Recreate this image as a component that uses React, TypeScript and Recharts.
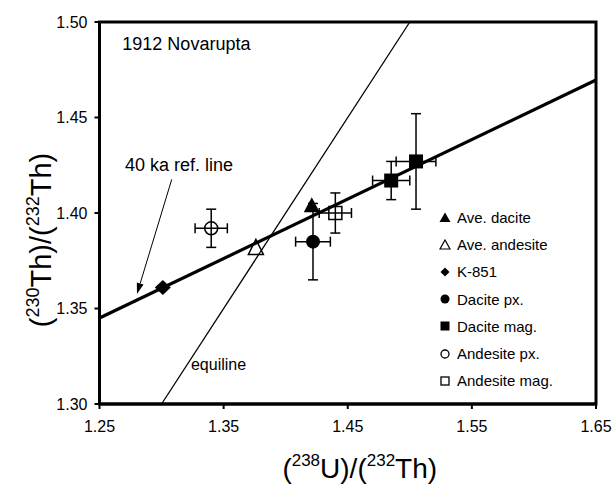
import React from 'react';
import {
  ScatterChart,
  Scatter,
  XAxis,
  YAxis,
  ErrorBar,
  ReferenceLine,
  ReferenceDot,
  ReferenceArea,
} from 'recharts';

const FONT = '"Liberation Sans", Arial, Helvetica, sans-serif';

// ---- axes ----
const xTicks = [1.25, 1.35, 1.45, 1.55, 1.65];
const yTicks = [1.3, 1.35, 1.4, 1.45, 1.5];

// ---- series (x = 238U/232Th, y = 230Th/232Th, ex/ey = error half-widths) ----
const aveDacite = [{ x: 1.421, y: 1.404 }];
const aveAndesite = [{ x: 1.376, y: 1.382 }];
const k851 = [{ x: 1.301, y: 1.361 }];
const dacitePx = [{ x: 1.422, y: 1.385, ex: 0.014, ey: 0.02 }];
const daciteMag = [
  { x: 1.485, y: 1.417, ex: 0.015, ey: 0.01 },
  { x: 1.505, y: 1.427, ex: 0.016, ey: 0.025 },
];
const andesitePx = [{ x: 1.34, y: 1.392, ex: 0.013, ey: 0.01 }];
const andesiteMag = [{ x: 1.44, y: 1.4, ex: 0.013, ey: 0.0105 }];

// ---- reference lines ----
const refLine40ka = [
  { x: 1.25, y: 1.345 },
  { x: 1.65, y: 1.4696 },
];
const equiline = [
  { x: 1.3, y: 1.3 },
  { x: 1.5, y: 1.5 },
];
const arrowSeg = [
  { x: 1.3082, y: 1.4176 },
  { x: 1.2802, y: 1.3576 },
];

// ---- annotations ----
const annotations = [
  { text: '1912 Novarupta', x: 1.2684, y: 1.4853, size: 18 },
  { text: '40 ka ref. line', x: 1.2705, y: 1.4222, size: 18 },
  { text: 'equiline', x: 1.3237, y: 1.318, size: 16 },
];

const legendLabels = [
  'Ave. dacite',
  'Ave. andesite',
  'K-851',
  'Dacite px.',
  'Dacite mag.',
  'Andesite px.',
  'Andesite mag.',
];
const legendKinds = ['triF', 'triO', 'dia', 'cirF', 'sqF', 'cirO', 'sqO'];

type P = { cx?: number; cy?: number };

const TriFilled = ({ cx = 0, cy = 0 }: P) => (
  <polygon points={`${cx},${cy - 8} ${cx - 8},${cy + 7} ${cx + 8},${cy + 7}`} fill="#000" />
);
const TriOpen = ({ cx = 0, cy = 0 }: P) => (
  <polygon
    points={`${cx},${cy - 8} ${cx - 7.5},${cy + 7} ${cx + 7.5},${cy + 7}`}
    fill="none"
    stroke="#000"
    strokeWidth={1.5}
  />
);
const Diamond = ({ cx = 0, cy = 0 }: P) => (
  <polygon points={`${cx},${cy - 7.5} ${cx + 8},${cy} ${cx},${cy + 7.5} ${cx - 8},${cy}`} fill="#000" />
);
const CircFilled = ({ cx = 0, cy = 0 }: P) => <circle cx={cx} cy={cy} r={7} fill="#000" />;
const CircOpen = ({ cx = 0, cy = 0 }: P) => (
  <circle cx={cx} cy={cy} r={6.5} fill="none" stroke="#000" strokeWidth={1.5} />
);
const SqFilled = ({ cx = 0, cy = 0 }: P) => <rect x={cx - 7} y={cy - 7} width={14} height={14} fill="#000" />;
const SqOpen = ({ cx = 0, cy = 0 }: P) => (
  <rect x={cx - 6.5} y={cy - 6.5} width={13} height={13} fill="none" stroke="#000" strokeWidth={1.5} />
);

const Arrow = (p: any) => {
  const { x1, y1, x2, y2 } = p;
  const dx = x2 - x1;
  const dy = y2 - y1;
  const len = Math.hypot(dx, dy) || 1;
  const ux = dx / len;
  const uy = dy / len;
  const hl = 11;
  const hw = 3.5;
  const bx = x2 - ux * hl;
  const by = y2 - uy * hl;
  return (
    <g>
      <line x1={x1} y1={y1} x2={bx} y2={by} stroke="#000" strokeWidth={1} />
      <polygon
        points={`${x2},${y2} ${bx - uy * hw},${by + ux * hw} ${bx + uy * hw},${by - ux * hw}`}
        fill="#000"
      />
    </g>
  );
};

const LegendSymbol = ({ kind }: { kind: string }) => {
  const c = 6;
  let el: React.ReactNode = null;
  if (kind === 'triF') el = <polygon points="6,0.5 0.5,10 11.5,10" fill="#000" />;
  if (kind === 'triO') el = <polygon points="6,1 1,10 11,10" fill="none" stroke="#000" strokeWidth={1.2} />;
  if (kind === 'dia') el = <polygon points="6,1.5 10.5,6 6,10.5 1.5,6" fill="#000" />;
  if (kind === 'cirF') el = <circle cx={c} cy={c} r={4.5} fill="#000" />;
  if (kind === 'sqF') el = <rect x={1.5} y={1.5} width={9} height={9} fill="#000" />;
  if (kind === 'cirO') el = <circle cx={c} cy={c} r={4} fill="none" stroke="#000" strokeWidth={1.3} />;
  if (kind === 'sqO') el = <rect x={2} y={2} width={8} height={8} fill="none" stroke="#000" strokeWidth={1.3} />;
  return (
    <svg width={12} height={12} style={{ display: 'block' }}>
      {el}
    </svg>
  );
};

const fmt = (v: number) => v.toFixed(2);

const XLabel = (props: any) => {
  const vb = props.viewBox || { x: 0, y: 0, width: 0, height: 0 };
  const x = vb.x + vb.width / 2 + 12;
  const y = vb.y + 74;
  return (
    <text x={x} y={y} textAnchor="middle" fontFamily={FONT} fontSize={28} fill="#000">
      (<tspan fontSize={17} dy={-12}>238</tspan>
      <tspan dy={12}>U)/(</tspan>
      <tspan fontSize={17} dy={-12}>232</tspan>
      <tspan dy={12}>Th)</tspan>
    </text>
  );
};

const YLabel = (props: any) => {
  const vb = props.viewBox || { x: 0, y: 0, width: 0, height: 0 };
  const x = vb.x + 11;
  const y = vb.y + vb.height / 2 + 27;
  return (
    <text
      x={x}
      y={y}
      transform={`rotate(-90, ${x}, ${y})`}
      textAnchor="middle"
      fontFamily={FONT}
      fontSize={29}
      fill="#000"
    >
      (<tspan fontSize={18} dy={-12}>230</tspan>
      <tspan dy={12}>Th)/(</tspan>
      <tspan fontSize={18} dy={-12}>232</tspan>
      <tspan dy={12}>Th)</tspan>
    </text>
  );
};

const tickStyle = { fontFamily: FONT, fontSize: 16, fill: '#000' };

export default function App() {
  return (
    <div style={{ position: 'absolute', left: 0, top: 0, width: 613, height: 486, background: '#fff' }}>
      <ScatterChart width={613} height={486} margin={{ top: 22, right: 17, bottom: 52, left: 39.5 }}>
        <XAxis
          type="number"
          dataKey="x"
          domain={[1.25, 1.65]}
          ticks={xTicks}
          tickFormatter={fmt}
          allowDataOverflow
          height={30}
          tickSize={5}
          tickMargin={12}
          tick={tickStyle}
          axisLine={{ stroke: '#000', strokeWidth: 3 }}
          tickLine={{ stroke: '#000', strokeWidth: 2 }}
          label={{ content: XLabel }}
        />
        <YAxis
          type="number"
          dataKey="y"
          domain={[1.3, 1.5]}
          ticks={yTicks}
          tickFormatter={fmt}
          allowDataOverflow
          width={60}
          tickSize={5}
          tickMargin={7}
          tick={tickStyle}
          axisLine={{ stroke: '#000', strokeWidth: 3 }}
          tickLine={{ stroke: '#000', strokeWidth: 2 }}
          label={{ content: YLabel }}
        />
        <ReferenceArea
          x1={1.25}
          x2={1.65}
          y1={1.3}
          y2={1.5}
          fill="none"
          fillOpacity={0}
          stroke="#000"
          strokeWidth={3}
          ifOverflow="visible"
        />
        <ReferenceLine
          segment={equiline}
          stroke="#000"
          strokeWidth={1.3}
          ifOverflow="visible"
        />
        <ReferenceLine
          segment={refLine40ka}
          stroke="#000"
          strokeWidth={3.2}
          ifOverflow="visible"
        />
        <ReferenceLine segment={arrowSeg} shape={Arrow} ifOverflow="visible" />
        {annotations.map((a) => (
          <ReferenceDot
            key={a.text}
            x={a.x}
            y={a.y}
            r={0}
            ifOverflow="visible"
            shape={(p: any) => (
              <text x={p.cx} y={p.cy} fontFamily={FONT} fontSize={a.size} fill="#000">
                {a.text}
              </text>
            )}
          />
        ))}
        <Scatter name="Dacite px." data={dacitePx} shape={CircFilled} isAnimationActive={false}>
          <ErrorBar dataKey="ex" direction="x" width={5} stroke="#000" strokeWidth={1.5} />
          <ErrorBar dataKey="ey" direction="y" width={5} stroke="#000" strokeWidth={1.5} />
        </Scatter>
        <Scatter name="Dacite mag." data={daciteMag} shape={SqFilled} isAnimationActive={false}>
          <ErrorBar dataKey="ex" direction="x" width={5} stroke="#000" strokeWidth={1.5} />
          <ErrorBar dataKey="ey" direction="y" width={5} stroke="#000" strokeWidth={1.5} />
        </Scatter>
        <Scatter name="Andesite px." data={andesitePx} shape={CircOpen} isAnimationActive={false}>
          <ErrorBar dataKey="ex" direction="x" width={5} stroke="#000" strokeWidth={1.5} />
          <ErrorBar dataKey="ey" direction="y" width={5} stroke="#000" strokeWidth={1.5} />
        </Scatter>
        <Scatter name="Andesite mag." data={andesiteMag} shape={SqOpen} isAnimationActive={false}>
          <ErrorBar dataKey="ex" direction="x" width={5} stroke="#000" strokeWidth={1.5} />
          <ErrorBar dataKey="ey" direction="y" width={5} stroke="#000" strokeWidth={1.5} />
        </Scatter>
        <Scatter name="Ave. dacite" data={aveDacite} shape={TriFilled} isAnimationActive={false} />
        <Scatter name="Ave. andesite" data={aveAndesite} shape={TriOpen} isAnimationActive={false} />
        <Scatter name="K-851" data={k851} shape={Diamond} isAnimationActive={false} />
      </ScatterChart>
      <div style={{ position: 'absolute', left: 439, top: 204, fontFamily: FONT, fontSize: 15, color: '#000' }}>
        {legendLabels.map((lab, i) => (
          <div key={lab} style={{ display: 'flex', alignItems: 'center', height: 27.2, whiteSpace: 'nowrap' }}>
            <LegendSymbol kind={legendKinds[i]} />
            <span style={{ marginLeft: 6 }}>{lab}</span>
          </div>
        ))}
      </div>
    </div>
  );
}
